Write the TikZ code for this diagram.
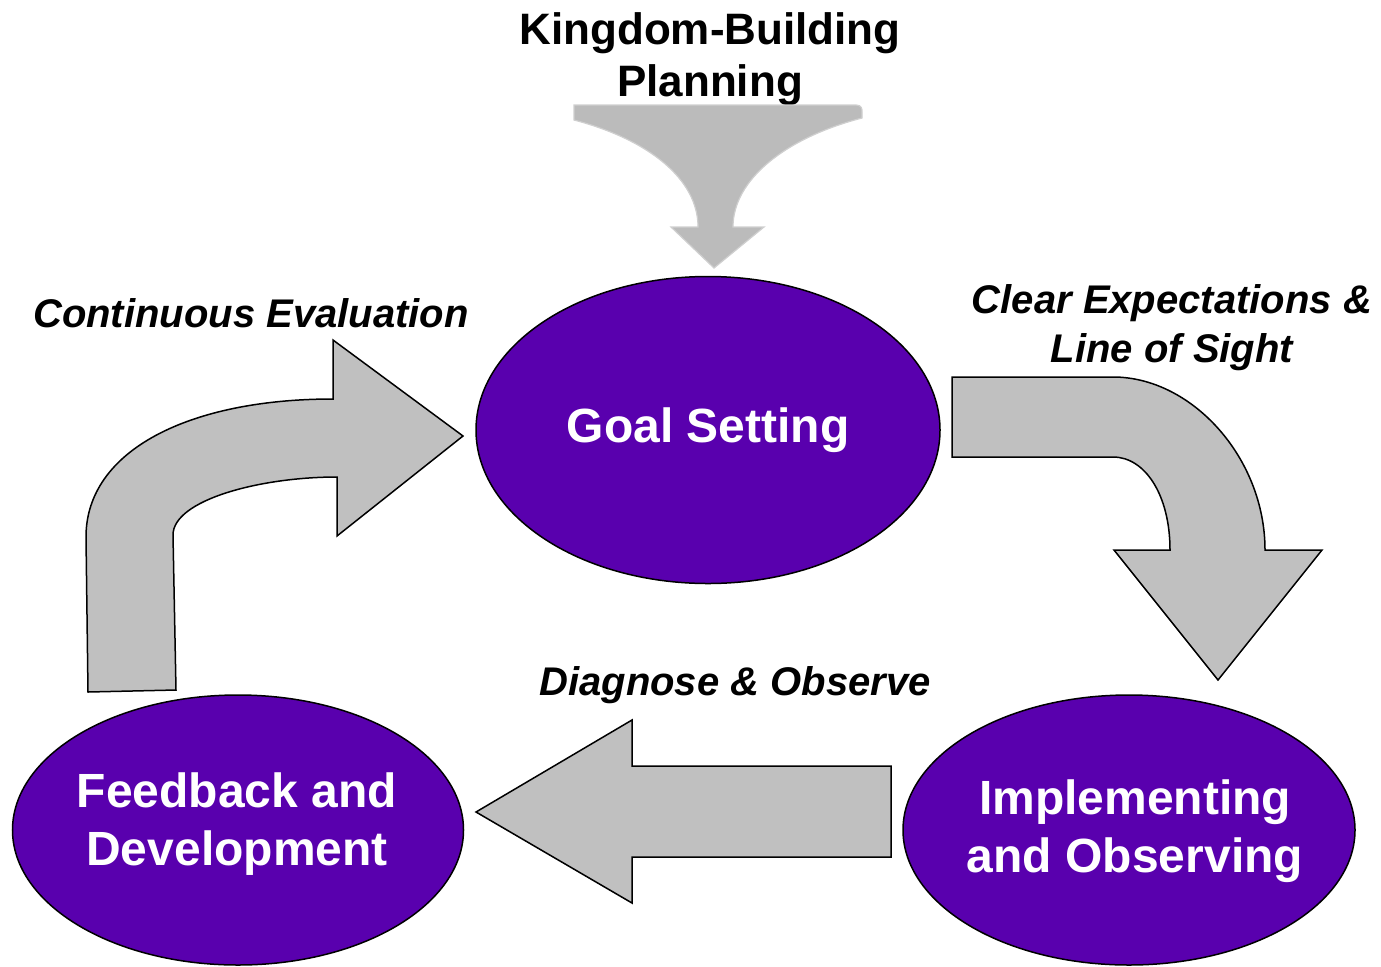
\documentclass[tikz,border=0pt]{standalone}
\usepackage{fontspec}
\setmainfont{Liberation Sans}
\usetikzlibrary{shapes.geometric}
\definecolor{purp}{HTML}{5900AE}
\definecolor{arrgray}{HTML}{C0C0C0}
\definecolor{fungray}{HTML}{BBBBBB}
\begin{document}
\begin{tikzpicture}[x=1bp,y=-1bp,
  blob/.style={ellipse, draw=black, line width=1.5bp, fill=purp, inner sep=0pt},
  blobtext/.style={text=white, font=\fontsize{48bp}{57.5bp}\selectfont\bfseries, align=center, inner sep=0pt},
  lbl/.style={font=\fontsize{40bp}{48bp}\selectfont\bfseries\itshape, anchor=base, inner sep=0pt},
  bigarrow/.style={draw=black, line width=1.5bp, fill=arrgray, line join=miter},
  funnel/.style={fill=fungray, draw=fungray!70!white, line width=1.2bp}]
\useasboundingbox (0,0) rectangle (1381,966);

% title
\node[font=\fontsize{44bp}{52bp}\selectfont\bfseries, align=center, inner sep=0pt] (title) at (710,59.5) {Kingdom-Building\\Planning};

% funnel arrow
\path[funnel] (574,105) -- (856,105) .. controls (862,105) and (862,109) .. (862,112) -- (862,118)
  .. controls (785,138) and (733,180) .. (733,227) -- (764,227) -- (714,268) -- (671,227) -- (698,227)
  .. controls (698,180) and (650,140) .. (574,120) -- cycle;

% ellipses
\node[blob, minimum width=464bp, minimum height=307bp] (goal) at (708,430) {};
\node[blob, minimum width=451bp, minimum height=270bp] (feed) at (238,830) {};
\node[blob, minimum width=452bp, minimum height=270bp] (impl) at (1129,830) {};

\node[blobtext] (goalt) at (708,430) {Goal Setting};
\node[blobtext] (feedt) at (237,824) {Feedback and\\Development};
\node[blobtext] (implt) at (1135,831) {Implementing\\and Observing};

% right bent arrow
\path[bigarrow] (952,377) -- (1113,377) .. controls (1192,377) and (1265,458) .. (1265,550)
  -- (1322,550) -- (1218,680) -- (1114,550) -- (1170,550)
  .. controls (1170,495) and (1145,457) .. (1113,457) -- (952,457) -- cycle;

% bottom left arrow
\path[bigarrow] (891,766) -- (632,766) -- (632,720) -- (476,812) -- (632,903) -- (632,857) -- (891,857) -- cycle;

% left bent arrow
\path[bigarrow] (88,692) -- (86,537) .. controls (86,450) and (190,399) .. (333,399)
  -- (333,340) -- (463,436) -- (337,536) -- (337,477)
  .. controls (260,477) and (173,500) .. (173,535) -- (176,690) -- cycle;

% labels
\node[lbl] (l1) at (251,327) {Continuous Evaluation};
\node[lbl] (l2) at (1172,313) {Clear Expectations \&};
\node[lbl] (l3) at (1172,362) {Line of Sight};
\node[lbl] (l4) at (735,695) {Diagnose \& Observe};
\end{tikzpicture}
\end{document}
